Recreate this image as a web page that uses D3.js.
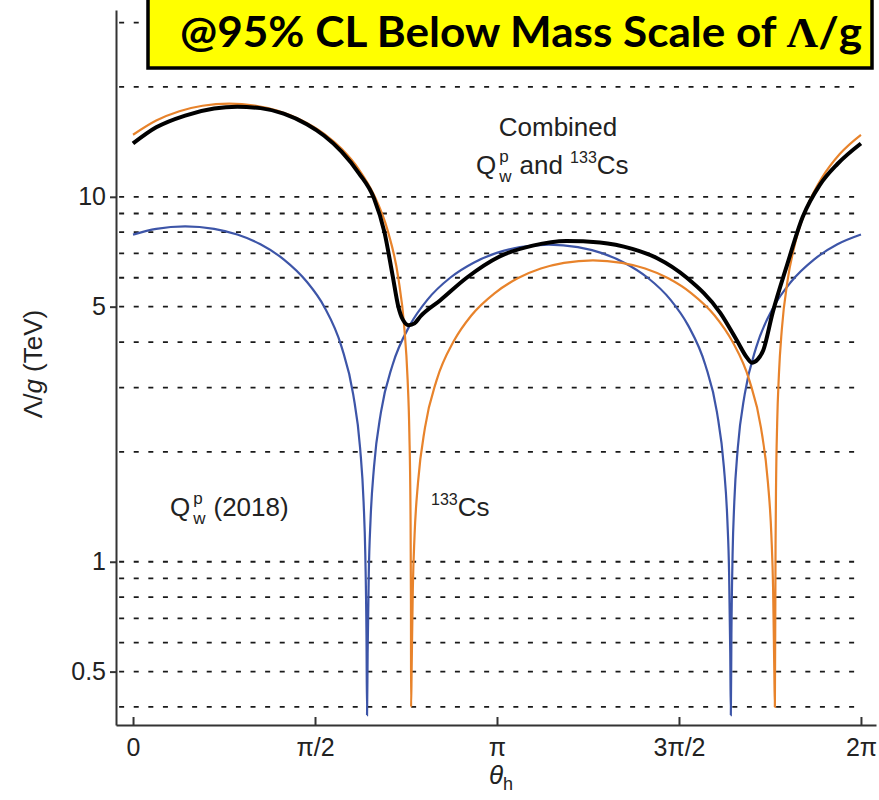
<!DOCTYPE html>
<html>
<head>
<meta charset="utf-8">
<script src="https://cdn.jsdelivr.net/npm/d3@7/dist/d3.min.js"></script>
<style>
  body { margin: 0; background: #fff; }
  svg text { font-family: "Liberation Sans", Arial, sans-serif; fill: #222; }
  .axis path, .axis line { stroke: #333; stroke-width: 2; }
  .axis text { font-size: 25px; fill: #222; }
</style>
</head>
<body>
<script>
// values: theta_h in radians, Lambda/g in TeV
const qwpCurve = [[0,7.88],[0.2,8.17],[0.45,8.30],[0.7,8.17],[0.9,7.88],[1.1,7.41],[1.3,6.74],[1.5,5.85],[1.65,5.00],[1.8,3.88],[1.9,2.88],[1.96,2.05],[1.99,1.46],[2.005,1.04],[2.015,0.63],[2.02,0.38],[2.025,0.56],[2.035,0.93],[2.05,1.30],[2.08,1.82],[2.14,2.57],[2.24,3.46],[2.39,4.45],[2.54,5.22],[2.74,6.01],[2.94,6.60],[3.14,7.02],[3.34,7.28],[3.59,7.40],[3.84,7.28],[4.04,7.02],[4.24,6.60],[4.44,6.01],[4.64,5.22],[4.79,4.45],[4.94,3.46],[5.04,2.57],[5.10,1.82],[5.13,1.30],[5.145,0.93],[5.155,0.56],[5.16,0.38],[5.165,0.63],[5.175,1.04],[5.19,1.46],[5.22,2.05],[5.28,2.88],[5.38,3.88],[5.53,5.00],[5.68,5.85],[5.88,6.74],[6.08,7.41],[6.283,7.88]];

const csCurve = [[0,14.79],[0.2,16.18],[0.4,17.16],[0.6,17.76],[0.83,18.0],[1.05,17.78],[1.25,17.20],[1.45,16.24],[1.65,14.87],[1.8,13.53],[1.95,11.88],[2.08,10.11],[2.2,8.04],[2.29,5.99],[2.34,4.44],[2.37,3.16],[2.385,2.26],[2.395,1.37],[2.399,0.76],[2.40,0.40],[2.405,0.51],[2.415,0.84],[2.43,1.18],[2.46,1.65],[2.52,2.33],[2.62,3.14],[2.77,4.03],[2.92,4.73],[3.12,5.44],[3.32,5.98],[3.52,6.36],[3.72,6.59],[3.97,6.70],[4.22,6.59],[4.42,6.36],[4.62,5.98],[4.82,5.44],[5.02,4.73],[5.17,4.03],[5.32,3.14],[5.42,2.33],[5.48,1.65],[5.51,1.18],[5.525,0.84],[5.535,0.51],[5.54,0.40],[5.546,1.11],[5.55,1.59],[5.56,2.40],[5.575,3.26],[5.60,4.33],[5.65,5.90],[5.72,7.57],[5.82,9.42],[5.95,11.32],[6.10,13.10],[6.283,14.79]];

const combinedCurve = [[0,14.0],[0.2,15.5],[0.45,16.7],[0.7,17.45],[0.9,17.65],[1.1,17.5],[1.3,16.9],[1.5,15.8],[1.65,14.7],[1.8,13.3],[1.95,11.6],[2.08,9.9],[2.17,8.0],[2.24,6.1],[2.29,5.0],[2.33,4.6],[2.38,4.45],[2.43,4.5],[2.48,4.7],[2.65,5.2],[2.88,6.0],[3.16,6.85],[3.45,7.35],[3.74,7.57],[4.03,7.5],[4.31,7.2],[4.52,6.8],[4.78,6.0],[5.07,4.8],[5.21,4.05],[5.30,3.62],[5.34,3.51],[5.39,3.58],[5.44,3.8],[5.52,4.8],[5.645,6.5],[5.78,8.8],[5.93,10.8],[6.08,12.3],[6.283,14.0]];

const gridValues = [0.4,0.5,0.6,0.7,0.8,0.9,1,2,3,4,5,6,7,8,9,10,20,30];
const yTickValues = [0.5,1,5,10];
const xTickValues = [0, Math.PI/2, Math.PI, 3*Math.PI/2, 2*Math.PI];
const xTickLabels = ["0","π/2","π","3π/2","2π"];

const w = 879, h = 800;
const svg = d3.select("body").append("svg")
  .attr("width", w)
  .attr("height", h);

const xScale = d3.scaleLinear().domain([-0.147, 6.413]).range([116, 876]);
const yScale = d3.scaleLog().domain([0.357, 32.5]).range([725, 10]);

// dashed reference lines
svg.append("g").selectAll("line")
  .data(gridValues)
  .enter()
  .append("line")
  .attr("x1", xScale(-0.12))
  .attr("x2", xScale(2*Math.PI) + 1)
  .attr("y1", d => yScale(d))
  .attr("y2", d => yScale(d))
  .attr("stroke", "#1a1a1a")
  .attr("stroke-width", 1.8)
  .attr("stroke-dasharray", "5,9.6");

// axes
svg.append("g")
  .attr("class", "axis")
  .attr("transform", "translate(0,725)")
  .call(d3.axisBottom(xScale)
    .tickValues(xTickValues)
    .tickFormat((d, i) => xTickLabels[i])
    .tickSizeInner(-8)
    .tickSizeOuter(0)
    .tickPadding(13));

svg.append("g")
  .attr("class", "axis")
  .attr("transform", "translate(116,0)")
  .call(d3.axisLeft(yScale)
    .tickValues(yTickValues)
    .tickFormat(d => String(d))
    .tickSizeInner(6)
    .tickSizeOuter(0)
    .tickPadding(4));

// curves
const line = d3.line()
  .x(d => xScale(d[0]))
  .y(d => yScale(d[1]))
  .curve(d3.curveMonotoneX);

svg.append("path").datum(qwpCurve)
  .attr("d", line).attr("fill", "none")
  .attr("stroke", "#3d55a8").attr("stroke-width", 2.2);

svg.append("path").datum(csCurve)
  .attr("d", line).attr("fill", "none")
  .attr("stroke", "#e8832b").attr("stroke-width", 2.2);

svg.append("path").datum(combinedCurve)
  .attr("d", line).attr("fill", "none")
  .attr("stroke", "#000").attr("stroke-width", 4)
  .attr("stroke-linejoin", "round");

// curve labels
svg.append("text").attr("x", 558).attr("y", 136)
  .attr("text-anchor", "middle").attr("font-size", 26).text("Combined");

function qw(sel) {
  sel.append("tspan").text("Q");
  sel.append("tspan").attr("font-size", 17).attr("dy", -12).attr("dx", 3).text("p");
  sel.append("tspan").attr("font-size", 17).attr("dy", 20).attr("dx", -9.5).text("w");
}

const comb2 = svg.append("text").attr("x", 476).attr("y", 174).attr("font-size", 26);
qw(comb2);
comb2.append("tspan").attr("dy", -8).attr("dx", 8).text("and ");
comb2.append("tspan").attr("font-size", 16).attr("dy", -11).text("133");
comb2.append("tspan").attr("dy", 11).text("Cs");

const qlab = svg.append("text").attr("x", 170).attr("y", 516).attr("font-size", 26);
qw(qlab);
qlab.append("tspan").attr("dy", -8).attr("dx", 8).text("(2018)");

const cslab = svg.append("text").attr("x", 431).attr("y", 516).attr("font-size", 26);
cslab.append("tspan").attr("font-size", 16).attr("dy", -11).text("133");
cslab.append("tspan").attr("dy", 11).text("Cs");

// axis titles
const yl = svg.append("text")
  .attr("transform", "translate(42,364) rotate(-90)")
  .attr("text-anchor", "middle")
  .attr("font-size", 26);
yl.append("tspan").text("Λ/");
yl.append("tspan").attr("font-style", "italic").text("g");
yl.append("tspan").text(" (TeV)");

const xl = svg.append("text").attr("x", 489).attr("y", 784).attr("font-size", 26);
xl.append("tspan").attr("font-style", "italic").text("θ");
xl.append("tspan").attr("font-size", 18).attr("dy", 6).text("h");

// title box
svg.append("rect")
  .attr("x", 148).attr("y", -4)
  .attr("width", 724).attr("height", 72)
  .attr("fill", "#ffff00")
  .attr("stroke", "#000")
  .attr("stroke-width", 3.5);

const title = svg.append("text")
  .attr("x", 180).attr("y", 47)
  .attr("textLength", 682)
  .attr("lengthAdjust", "spacingAndGlyphs")
  .style("font-family", "Lato, 'Open Sans', sans-serif")
  .style("font-weight", 700)
  .style("font-size", "42px")
  .style("fill", "#000");
title.append("tspan").text("@95% CL Below Mass Scale of ");
title.append("tspan").style("font-family", "'Liberation Serif', serif").text("Λ");
title.append("tspan").text("/g");
</script>
</body>
</html>
